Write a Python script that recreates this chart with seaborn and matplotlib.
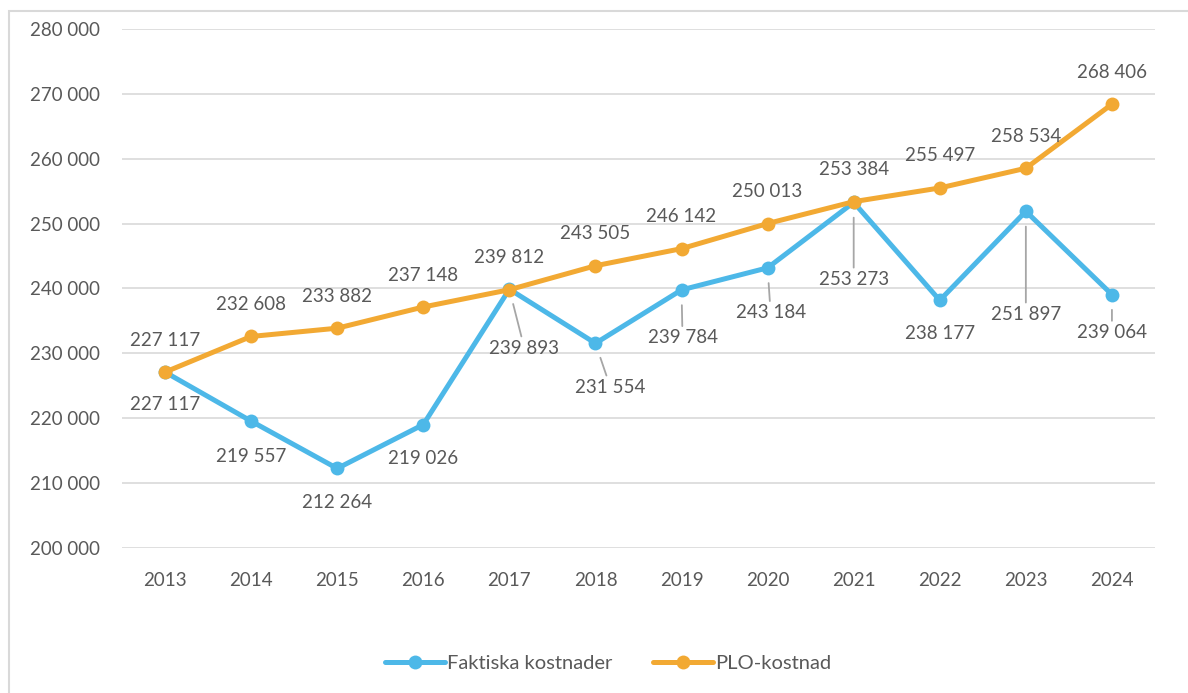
import numpy as np
import pandas as pd
import seaborn as sns
import matplotlib.pyplot as plt
from matplotlib.patches import Rectangle

# data
years = [2013, 2014, 2015, 2016, 2017, 2018, 2019, 2020, 2021, 2022, 2023, 2024]
faktiska = [227117, 219557, 212264, 219026, 239893, 231554, 239784, 243184, 253273, 238177, 251897, 239064]
plo = [227117, 232608, 233882, 237148, 239812, 243505, 246142, 250013, 253384, 255497, 258534, 268406]
series_names = ["Faktiska kostnader", "PLO-kostnad"]

df = pd.DataFrame({
    "year": years * 2,
    "value": faktiska + plo,
    "serie": [series_names[0]] * len(years) + [series_names[1]] * len(years),
})

blue = "#4DB8E8"
orange = "#F2A933"
textc = "#595959"
fs = 13.5

sns.set_theme(style="white")
plt.rcParams['font.family'] = ['Lato', 'DejaVu Sans']

fig = plt.figure(figsize=(11.88, 6.93), dpi=100)
ax = fig.add_axes([0.1027, 0.2092, 0.8695, 0.749])

sns.lineplot(data=df, x="year", y="value", hue="serie", palette=[blue, orange],
             marker="o", markersize=10, markeredgewidth=0, linewidth=3.6,
             ax=ax, legend=True)

ax.set_xlim(2012.5, 2024.5)
ax.set_ylim(200000, 280000)
ax.set_yticks(np.arange(200000, 280001, 10000))
ax.set_xticks(years)
ax.set_yticklabels([f"{v:,}".replace(",", " ") for v in range(200000, 280001, 10000)])
ax.grid(axis="y", color="#d9d9d9", lw=1.2)
ax.set_axisbelow(True)
sns.despine(ax=ax, left=True, bottom=True)
ax.tick_params(axis="both", length=0, labelsize=fs, colors=textc)
ax.tick_params(axis="y", pad=16)
ax.tick_params(axis="x", pad=17)
ax.set_xlabel("")
ax.set_ylabel("")

def fmt(v):
    return f"{v:,}".replace(",", " ")

# label offsets in pixels (dx, dy below point) for the blue series
blue_off = [(0, 32), (0, 35), (0, 34), (0, 34), (15, 59), (15, 44), (1, 48), (3, 45),
            (0, 77), (0, 33), (0, 103), (0, 38)]
leader = [False, False, False, False, True, True, True, True, True, False, True, True]

px = 0.72
for i, (x, v) in enumerate(zip(years, faktiska)):
    dx, dy = blue_off[i]
    if leader[i]:
        ax.annotate(fmt(v), xy=(x, v), xytext=(dx * px, -dy * px), textcoords="offset points",
                    ha="center", va="center", fontsize=fs, color=textc, zorder=5,
                    arrowprops=dict(arrowstyle="-", color="#a6a6a6", lw=1.3,
                                    shrinkA=0, shrinkB=11))
    else:
        ax.annotate(fmt(v), xy=(x, v), xytext=(dx * px, -dy * px), textcoords="offset points",
                    ha="center", va="center", fontsize=fs, color=textc, zorder=5)

for x, v in zip(years, plo):
    ax.annotate(fmt(v), xy=(x, v), xytext=(0, 32 * px), textcoords="offset points",
                ha="center", va="center", fontsize=fs, color=textc, zorder=5)

handles, labels = ax.get_legend_handles_labels()
ax.get_legend().remove()
fig.legend(handles, labels, loc="center", bbox_to_anchor=(0.512, 0.043), ncol=2,
           frameon=False, fontsize=14.5, labelcolor=textc, handlelength=3.0,
           handletextpad=0.1, columnspacing=2.0)

# outer frame
fig.add_artist(Rectangle((9 / 1188, -0.2), 1.2, 1.2 - 11 / 693, transform=fig.transFigure,
                         fill=False, edgecolor="#d9d9d9", lw=1.5))

fig.savefig("out.png", dpi=100)
